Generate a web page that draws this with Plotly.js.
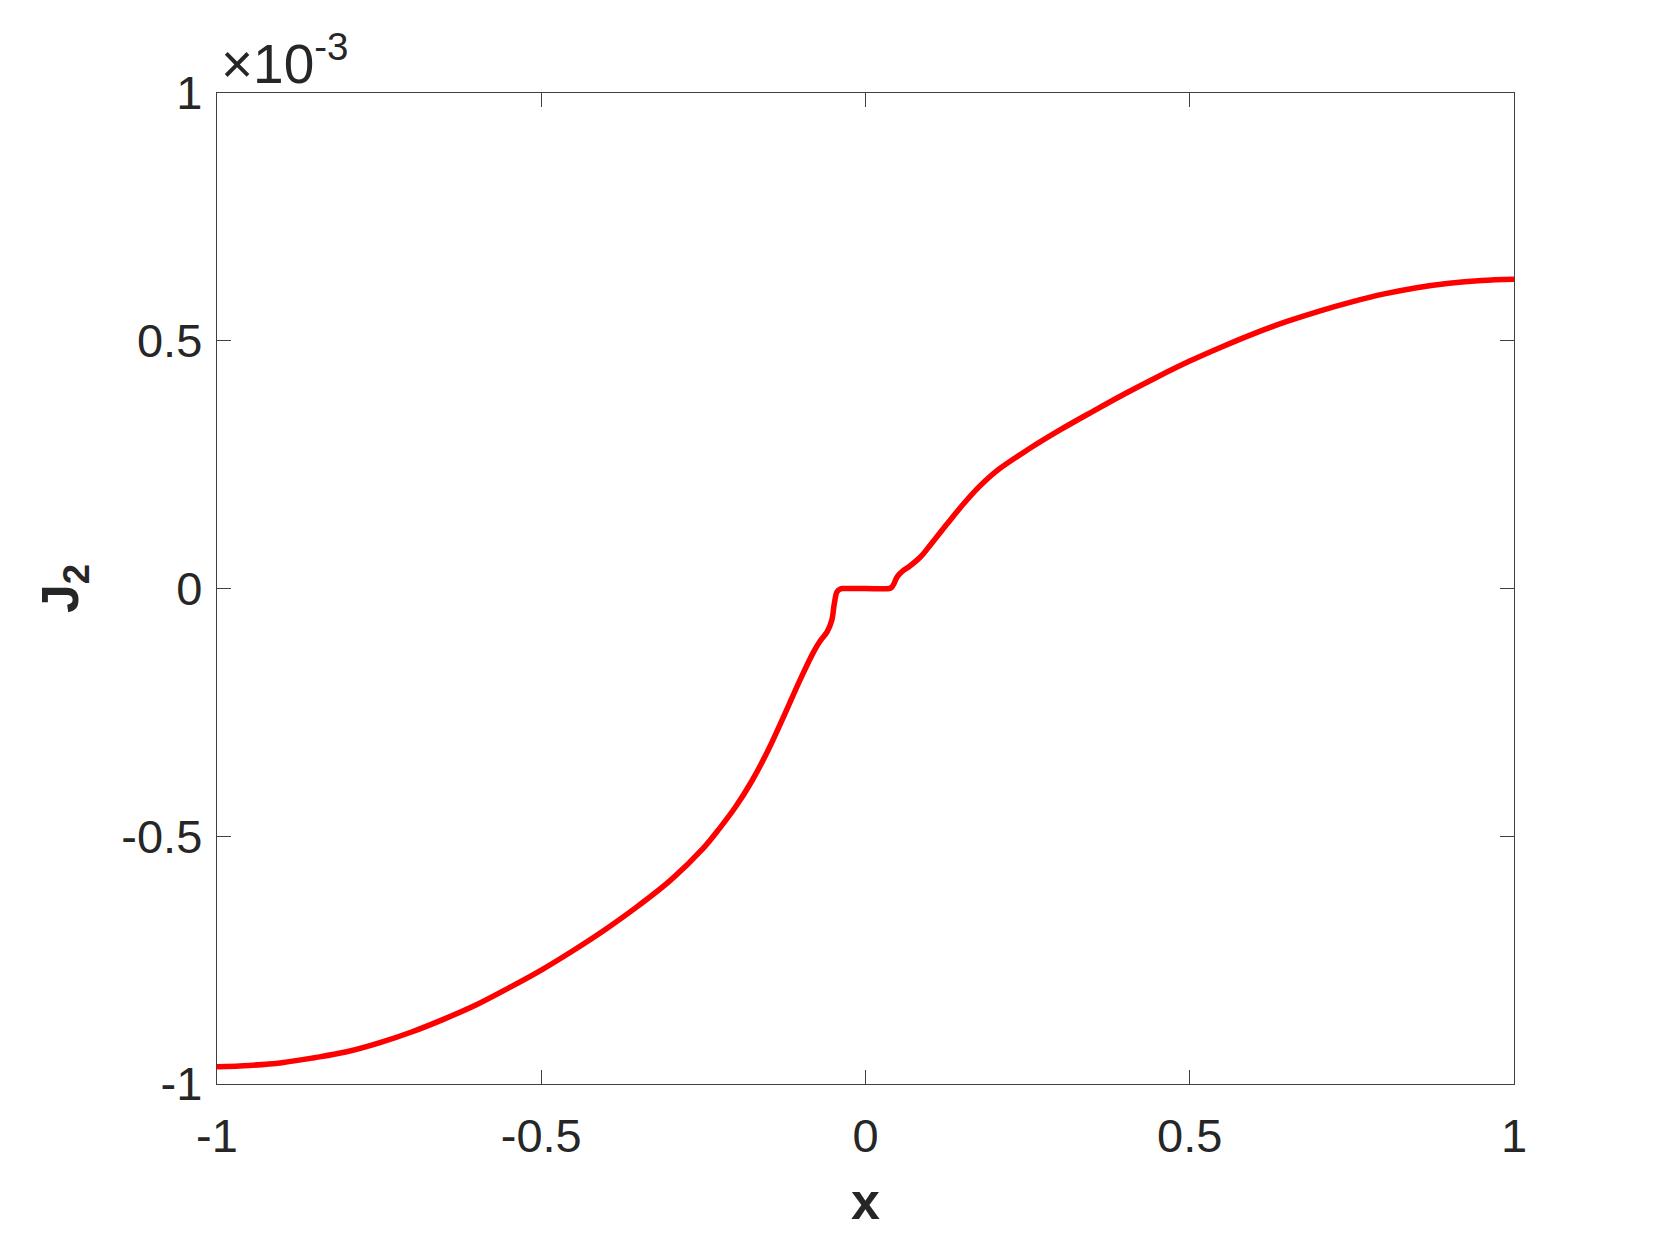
<!DOCTYPE html>
<html>
<head>
<meta charset="utf-8">
<script src="https://cdn.plot.ly/plotly-3.0.1.min.js"></script>
<style>html,body{margin:0;padding:0;background:#fff;}#chart{width:1673px;height:1234px;}</style>
</head>
<body>
<div id="chart"></div>
<script>
// x positions
const xValues = [-1, -0.95, -0.9, -0.85, -0.8, -0.75, -0.7, -0.65, -0.6, -0.55, -0.5, -0.45, -0.4, -0.35, -0.3, -0.25, -0.225, -0.2, -0.175, -0.15, -0.125, -0.1, -0.08, -0.07, -0.059, -0.052, -0.048, -0.044, -0.039, -0.034, -0.030, 0, 0.036, 0.040, 0.044, 0.049, 0.059, 0.066, 0.085, 0.1, 0.125, 0.15, 0.175, 0.2, 0.25, 0.3, 0.35, 0.4, 0.45, 0.5, 0.55, 0.6, 0.65, 0.7, 0.75, 0.8, 0.85, 0.9, 0.95, 1.0];
// J2 values, in units of 1e-3
const j2Values = [-0.965, -0.9625, -0.957, -0.947, -0.935, -0.917, -0.895, -0.869, -0.840, -0.806, -0.770, -0.730, -0.687, -0.640, -0.588, -0.524, -0.484, -0.440, -0.388, -0.326, -0.255, -0.182, -0.128, -0.106, -0.087, -0.064, -0.030, -0.007, -0.001, 0, 0, 0, 0, 0.002, 0.010, 0.024, 0.037, 0.043, 0.064, 0.088, 0.129, 0.169, 0.205, 0.235, 0.280, 0.320, 0.357, 0.393, 0.427, 0.459, 0.488, 0.515, 0.539, 0.560, 0.5785, 0.5945, 0.607, 0.616, 0.6215, 0.624];
const xTicks = [-1, -0.5, 0, 0.5, 1];
const xTickLabels = ["-1", "-0.5", "0", "0.5", "1"];
const yTicks = [-1, -0.5, 0, 0.5, 1];
const yTickLabels = ["-1", "-0.5", "0", "0.5", "1"];

const font = "Liberation Sans, Arial, Helvetica, sans-serif";
const axisCommon = {
  showgrid: false, zeroline: false, showline: true, mirror: 'ticks',
  linecolor: '#404040', linewidth: 1.3,
  ticks: 'inside', ticklen: 14, tickwidth: 1.3, tickcolor: '#404040',
  tickfont: {family: font, size: 47, color: '#262626'},
  tickmode: 'array'
};
const layout = {
  width: 1673, height: 1234,
  margin: {l: 217, r: 159, t: 93, b: 150},
  paper_bgcolor: '#ffffff', plot_bgcolor: '#ffffff',
  showlegend: false,
  xaxis: Object.assign({}, axisCommon, {
    range: [-1, 1], tickvals: xTicks, ticktext: xTickLabels,
    ticklabelstandoff: 10,
    title: {text: '<b>x</b>', font: {family: font, size: 52, color: '#262626'}, standoff: 22}
  }),
  yaxis: Object.assign({}, axisCommon, {
    range: [-1, 1], tickvals: yTicks, ticktext: yTickLabels,
    ticklabelstandoff: 4,
    title: {text: '<b>J<sub>2</sub></b>', font: {family: font, size: 52, color: '#262626'}, standoff: 26}
  }),
  annotations: [{
    xref: 'paper', yref: 'paper', x: 0, y: 1, xanchor: 'left', yanchor: 'bottom',
    xshift: 2, yshift: -4,
    text: '×10<sup>-3</sup>', showarrow: false,
    font: {family: font, size: 55, color: '#262626'}
  }]
};
const trace = {
  x: xValues, y: j2Values, type: 'scatter', mode: 'lines',
  line: {color: '#ff0000', width: 5.5, shape: 'spline', smoothing: 1},
  hoverinfo: 'skip'
};
Plotly.newPlot('chart', [trace], layout, {displayModeBar: false, staticPlot: true});
</script>
</body>
</html>
